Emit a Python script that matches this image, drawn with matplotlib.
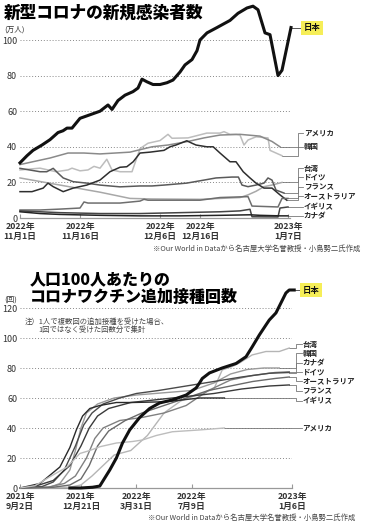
import numpy as np
import matplotlib
matplotlib.use('Agg')
from matplotlib import pyplot as plt

plt.rcParams['font.family'] = ['Noto Sans CJK JP', 'DejaVu Sans']

# ---- 上: 新規感染者数 (万人)  x = 2022/11/1 からの日数
cases = {
    '日本': ([0, 1.75, 3.25, 5.5, 7.5, 9.5, 10.75, 11.75, 13, 15, 17.5, 20, 22, 23, 24.5, 26.25, 28.25, 29.5, 30.5,
             31.75, 33.25, 35, 36.75, 38.25, 40, 41.25, 43, 44.25, 45, 46.75, 49.25, 52.5, 54.5, 56.75, 58.25,
             59.5, 61.25, 62.5, 64.5, 65.5, 67.75],
            [31, 35, 38, 41, 44, 48, 49, 50.5, 50.5, 56, 58, 60, 63.5, 61, 66, 69, 71, 73, 78,
             76.5, 75, 75, 76, 77.5, 82, 86, 89, 94, 100, 104, 107, 111, 115, 118, 119,
             117, 104, 103, 80, 83, 107]),
    'アメリカ': ([0, 5, 9, 12, 13, 15, 17, 18.5, 20, 21.7, 23, 25, 28, 30, 32, 35, 37, 38, 42, 46.7, 50, 51, 52.5,
                 54, 55, 56, 57, 59, 62, 62.5, 64, 65.5],
                [27, 28, 26, 27, 28, 26.5, 27, 29, 28, 33, 27, 26, 26, 39, 42, 43.5, 47, 44.8, 45, 47.7, 47.7, 48.5, 47,
                 47, 46.6, 41, 43.8, 45.6, 45, 38, 36.5, 35]),
    '韓国': ([0, 3, 7.5, 12, 16, 20, 27.5, 33, 37, 42, 46, 50, 55, 60, 63, 65],
            [30, 31.5, 33.7, 36.5, 36.5, 36, 37, 40, 41, 43, 45, 46.6, 47, 46, 43, 40]),
    '台湾': ([0, 10, 20, 27.5, 33, 45, 55, 57, 59, 61, 63, 65.5],
            [22.5, 18.5, 14.5, 11, 10.7, 10.5, 11.5, 13, 15, 17.6, 18.5, 20]),
    'ドイツ': ([0, 5, 6.7, 8.3, 9.6, 10.8, 13.3, 16.7, 20, 25, 30, 33, 36, 41.7, 46, 49, 53, 54.6, 55.5, 57, 59,
               61, 62, 63, 64, 66],
              [27.9, 26, 26, 27.9, 25, 22.5, 20.4, 19.6, 18.5, 17.5, 18, 18, 18.5, 19.6, 21.3, 22.5, 23, 23, 18.5,
               17.6, 18.5, 19.6, 22.5, 21.3, 15.7, 14]),
    'フランス': ([0, 3, 5.8, 7, 8.3, 10.8, 13.3, 16.7, 20, 22.5, 25, 26.7, 28.3, 30, 32.5, 36, 37.5, 39, 41.7, 43,
                 44, 46.7, 48.3, 50, 52.5, 54, 55.8, 57.5, 59, 61, 63, 65, 66.7],
                [14.8, 14.8, 16.8, 19.6, 17.6, 14.8, 16.8, 18.5, 21.3, 26, 28.5, 28.8, 31.6, 36.5, 37, 38, 40, 41,
                 43.4, 42, 41, 40, 40, 36.5, 31.6, 31.6, 26, 22.5, 19.6, 16.8, 16.8, 13, 10]),
    'オーストラリア': ([0, 5, 10, 15, 16, 17, 20, 25, 30, 31, 32, 35, 45, 50, 57, 58, 64.5, 65.5, 67],
                    [4.5, 4.5, 5, 5.6, 9, 8.4, 8.4, 8.4, 9.5, 10.5, 10, 10, 10, 11.5, 12, 6.7, 6.2, 11, 11]),
    'イギリス': ([0, 5, 10, 20, 30, 40, 50, 55, 57.5, 58, 64.5, 65, 67],
                [4, 3.5, 3, 2.5, 2.5, 3, 3.5, 4, 4.9, 0.7, 0.6, 5.6, 6.2]),
    'カナダ': ([0, 5, 10, 20, 30, 40, 50, 57.5, 60, 65, 67],
              [3.5, 2.5, 2, 1.5, 1.2, 1.2, 1.5, 1.8, 1.5, 1.2, 1.2]),
}
cases_colors = {'日本': '#111111', 'アメリカ': '#bdbdbd', '韓国': '#8a8a8a', '台湾': '#a8a8a8', 'ドイツ': '#5a5a5a',
                'フランス': '#2e2e2e', 'オーストラリア': '#6e6e6e', 'イギリス': '#444444', 'カナダ': '#222222'}
cases_label_y = {'日本': 107, 'アメリカ': 47.8, '韓国': 40, '台湾': 28, 'ドイツ': 23, 'フランス': 17.4,
                 'オーストラリア': 12.4, 'イギリス': 6.2, 'カナダ': 1.1}
cases_ticks = [0, 15, 35, 45, 67]
cases_ticklabels = ['2022年\n11月1日', '2022年\n11月16日', '2022年\n12月6日', '2022年\n12月16日', '2023年\n1月7日']

# ---- 下: 100人あたり追加接種回数  x = 2021/9/2 からの日数
boost = {
    '日本': ([90, 110, 131, 144, 162, 174, 185, 198, 216, 234, 252, 275, 300, 318, 324, 329, 342, 365, 390, 408,
             419, 432, 444, 450, 462, 480, 486, 495],
            [0, 0, 0.5, 1.3, 12, 20, 30, 38.7, 47, 53, 56.7, 58.7, 62, 66.7, 70, 73, 76.7, 80, 83, 87.5,
             94, 102, 108.7, 112, 116.7, 130, 132, 132]),
    '台湾': ([0, 90, 110, 130, 150, 170, 200, 230, 260, 290, 320, 350, 365, 383, 396, 419, 444, 468, 486],
            [0, 0.5, 2, 8, 15, 22, 25, 35, 50, 58, 62, 66, 78.7, 81, 83.3, 88.7, 91, 91, 93.3]),
    '韓国': ([0, 54, 72, 90, 100, 110, 120, 140, 170, 210, 260, 310, 350, 380, 410, 440, 468],
            [0, 0.5, 3, 12, 25, 40, 50, 56, 60, 62, 63.5, 65, 70, 76, 79, 80, 80]),
    'カナダ': ([0, 50, 80, 100, 120, 135, 150, 180, 220, 260, 300, 340, 380, 420, 460, 486],
              [0, 0.5, 3, 8, 20, 33, 40, 45, 47, 50, 55, 65, 72, 75, 77, 77.5]),
    'ドイツ': ([0, 40, 60, 80, 100, 115, 130, 150, 180, 210, 250, 300, 350, 400, 450, 486],
              [0, 1, 4, 12, 28, 42, 50, 56, 60, 63, 65, 68, 71, 74, 76.5, 77]),
    'オーストラリア': ([0, 60, 90, 110, 125, 140, 160, 190, 220, 260, 300, 340, 380, 420, 460, 486],
                    [0, 0.5, 2, 6, 15, 28, 38, 45, 50, 55, 60, 65, 68, 71, 73, 74]),
    'フランス': ([0, 30, 60, 90, 110, 125, 140, 160, 200, 250, 300, 350, 400, 450, 486],
                [0, 1.5, 5, 15, 28, 40, 48, 53, 57, 59, 61, 63, 66, 68, 68.7]),
    'イギリス': ([0, 36, 72, 90, 102, 113, 126, 144, 174, 203, 264, 324, 369],
                [0, 3, 14, 27, 39, 48, 53, 55, 57, 57, 57.5, 60, 60]),
    'アメリカ': ([0, 27, 54, 85, 108, 126, 144, 174, 203, 221, 246, 275, 324, 369],
                [0, 1.5, 7.5, 14, 23, 25, 27.5, 30, 31, 32, 35, 37.5, 38.7, 40]),
}
boost_colors = {'日本': '#111111', '台湾': '#b5b5b5', '韓国': '#9a9a9a', 'カナダ': '#808080', 'ドイツ': '#4a4a4a',
                'オーストラリア': '#6a6a6a', 'フランス': '#3a3a3a', 'イギリス': '#2a2a2a', 'アメリカ': '#bdbdbd'}
boost_label_y = {'日本': 132, '台湾': 96, '韓国': 90, 'カナダ': 83.3, 'ドイツ': 77.3, 'オーストラリア': 71.3,
                 'フランス': 64.7, 'イギリス': 58, 'アメリカ': 40}
boost_ticks = [0, 110, 210, 310, 491]
boost_ticklabels = ['2021年\n9月2日', '2021年\n12月21日', '2022年\n3月31日', '2022年\n7月9日', '2023年\n1月6日']

W, H = 365, 530
fig = plt.figure(figsize=(W / 100, H / 100), dpi=100)
fig.patch.set_facecolor('white')


def px(x, y):
    return x / W, 1 - y / H


def setup(ax, xmax, ymax, yticks, xticks, xlabels):
    ax.set_xlim(0, xmax)
    ax.set_ylim(0, ymax)
    for s in ['top', 'right', 'left']:
        ax.spines[s].set_visible(False)
    ax.spines['bottom'].set_color('#999999')
    ax.spines['bottom'].set_linewidth(0.9)
    ax.set_yticks(yticks)
    ax.set_yticklabels([str(v) for v in yticks])
    ax.tick_params(axis='y', length=0, pad=2, labelsize=6.5, labelcolor='#333333')
    ax.set_xticks(xticks)
    ax.set_xticklabels(xlabels)
    ax.tick_params(axis='x', direction='in', length=3, color='#999999', pad=3,
                   labelsize=6.3, labelcolor='#333333')
    for t in ax.get_xticklabels():
        t.set_fontweight('bold')
        t.set_linespacing(1.15)
    ax.yaxis.grid(True, linestyle=(0, (1, 2)), color='#888888', linewidth=0.7)
    ax.set_axisbelow(True)
    ax.patch.set_alpha(0)


def leaders(ax, series, label_y, x_elb, x_txt):
    for name, (xs, ys) in series.items():
        xe, ye = xs[-1], ys[-1]
        ly = label_y[name]
        if name == '日本':
            ax.plot([xe, x_txt - 0.2 * (x_txt - x_elb)], [ye, ly], color='#555555', lw=0.7, clip_on=False)
            ax.text(x_txt, ly, name, fontsize=6, fontweight='bold', va='center', ha='left', color='#111111',
                    bbox=dict(boxstyle='square,pad=0.3', fc='#f6ee58', ec='none'))
        else:
            ax.plot([xe, x_elb, x_elb, x_txt - 0.15 * (x_txt - x_elb)], [ye, ye, ly, ly],
                    color='#777777', lw=0.6, clip_on=False)
            ax.text(x_txt, ly, name, fontsize=5.4, fontweight='bold', va='center', ha='left', color='#222222')


# ---------------- 上のグラフ
ax1 = fig.add_axes([20 / W, (H - 218) / H, 270 / W, 213.6 / H])
setup(ax1, 67.5, 120, [0, 20, 40, 60, 80, 100], cases_ticks, cases_ticklabels)
for name, (xs, ys) in cases.items():
    lw = 2.2 if name == '日本' else 1.1
    ax1.plot(xs, ys, color=cases_colors[name], lw=lw, clip_on=False, zorder=5 if name == '日本' else 3)
leaders(ax1, cases, cases_label_y, 69.5, 70.9)

fig.text(*px(4, 13), '新型コロナの新規感染者数', fontsize=12, fontweight='heavy', va='center', ha='left')
fig.text(*px(4, 30), '(万人)', fontsize=5.5, va='center', ha='left', color='#333333')
fig.text(*px(360, 249), '※Our World in Dataから名古屋大学名誉教授・小島勢二氏作成', fontsize=5.3,
         va='center', ha='right', color='#444444')

# ---------------- 下のグラフ
ax2 = fig.add_axes([20 / W, (H - 488) / H, 272 / W, 202.5 / H])
setup(ax2, 489, 135, [0, 20, 40, 60, 80, 100, 120], boost_ticks, boost_ticklabels)
for name, (xs, ys) in boost.items():
    lw = 2.2 if name == '日本' else 1.0
    ax2.plot(xs, ys, color=boost_colors[name], lw=lw, clip_on=False, zorder=5 if name == '日本' else 3)
leaders(ax2, boost, boost_label_y, 498, 510)

fig.text(*px(30, 280), '人口100人あたりの', fontsize=11.5, fontweight='heavy', va='center', ha='left')
fig.text(*px(30, 297), 'コロナワクチン追加接種回数', fontsize=11.5, fontweight='heavy', va='center', ha='left')
fig.text(*px(4, 300), '(回)', fontsize=5.5, va='center', ha='left', color='#333333')
fig.text(*px(25, 322), '注）1人で複数回の追加接種を受けた場合、', fontsize=5.3, va='center', ha='left', color='#444444')
fig.text(*px(38, 330), '1回ではなく受けた回数分で集計', fontsize=5.3, va='center', ha='left', color='#444444')
fig.text(*px(355, 518), '※Our World in Dataから名古屋大学名誉教授・小島勢二氏作成', fontsize=5.3,
         va='center', ha='right', color='#444444')

fig.savefig('out.png', dpi=100, facecolor='white')
